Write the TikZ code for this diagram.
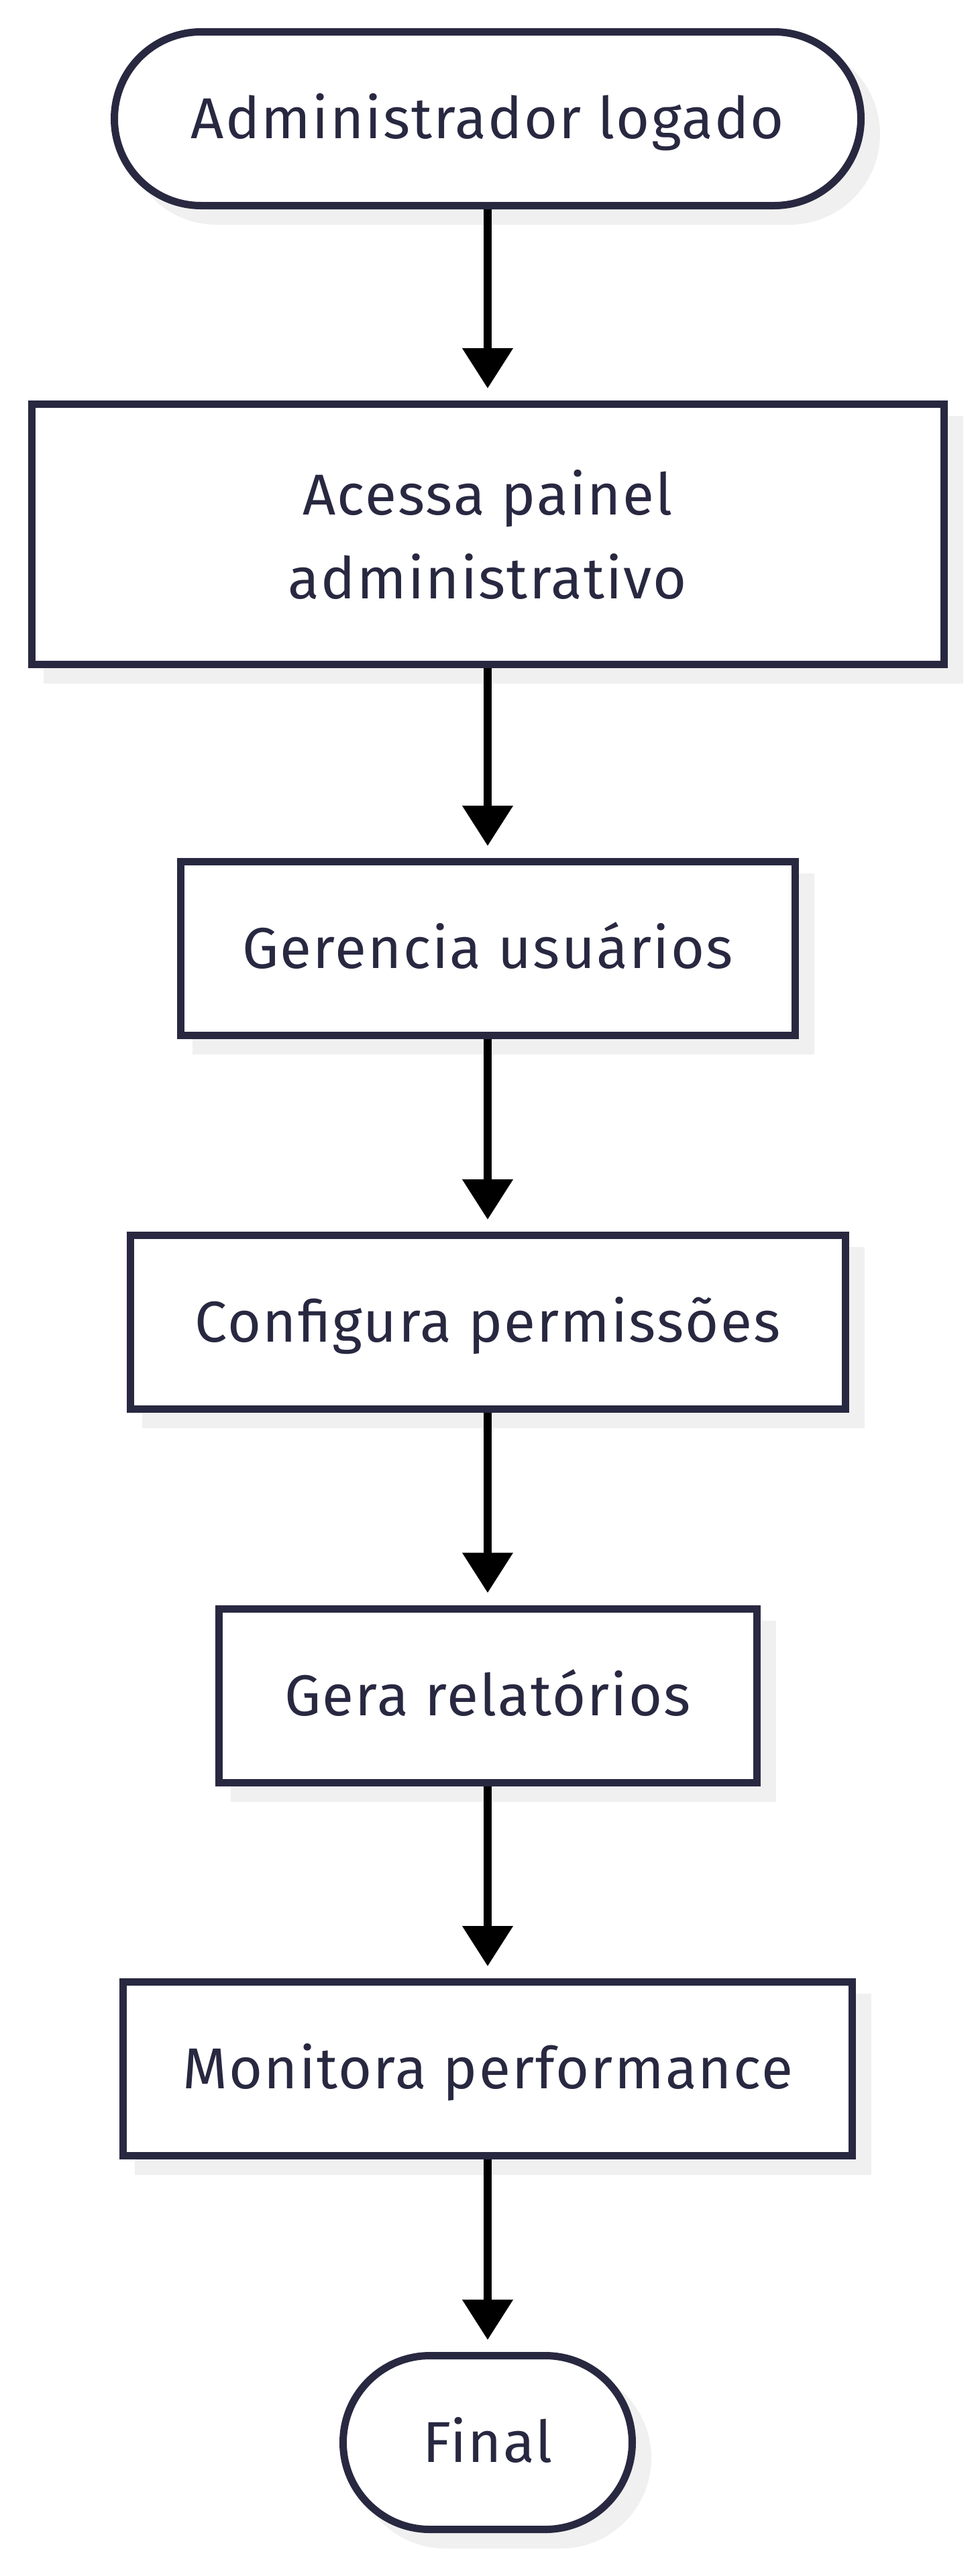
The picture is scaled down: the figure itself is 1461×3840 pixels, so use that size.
\documentclass[tikz,border=0pt]{standalone}
\usepackage{fontspec}
\setmainfont[LetterSpace=2.5]{Fira Sans}
\usetikzlibrary{arrows.meta,backgrounds}
\definecolor{ink}{HTML}{282841}
\definecolor{shadowc}{HTML}{F0F0F0}
\tikzset{
  boxnode/.style={draw=ink, fill=white, line width=5.5pt, inner sep=0pt,
    text=ink, font=\fontsize{43pt}{62.5pt}\selectfont, align=center,
    minimum height=129.5pt},
  oneline/.style={text height=29.5pt, text depth=0pt},
  stadium/.style={boxnode, rounded corners=64.75pt},
  flowarrow/.style={draw=black, line width=5.75pt,
    -{Triangle[length=30pt,width=36.5pt]}, shorten >=9pt},
  shadowbox/.style={fill=shadowc}
}
\begin{document}
\begin{tikzpicture}[x=0.5pt,y=-0.5pt]
\useasboundingbox (0,0) rectangle (1461,3840);
\node[stadium, oneline, minimum width=556.5pt] (start) at (727,177) {Administrador logado};
\node[boxnode, minimum width=680pt, minimum height=194pt] (acc) at (727,796.5) {Acessa painel\\administrativo};
\node[boxnode, oneline, minimum width=458pt] (ger) at (727,1414) {Gerencia usuários};
\node[boxnode, oneline, minimum width=533pt] (cfg) at (727,1971) {Configura permissões};
\node[boxnode, oneline, minimum width=401pt] (rel) at (727,2527.5) {Gera relatórios};
\node[boxnode, oneline, minimum width=543.5pt] (mon) at (727,3084) {Monitora performance};
\node[stadium, oneline, minimum width=215.5pt] (fin) at (727,3641) {Final};
\begin{scope}[on background layer]
  \fill[shadowbox, rounded corners=67.5pt] ([shift={(23,23)}]start.south west) rectangle ([shift={(23,23)}]start.north east);
  \foreach \n in {acc,ger,cfg,rel,mon}{
    \fill[shadowbox] ([shift={(23,23)}]\n.south west) rectangle ([shift={(23,23)}]\n.north east);
  }
  \fill[shadowbox, rounded corners=67.5pt] ([shift={(23,23)}]fin.south west) rectangle ([shift={(23,23)}]fin.north east);
\end{scope}
\draw[flowarrow] (start.south) -- (acc.north);
\draw[flowarrow] (acc.south) -- (ger.north);
\draw[flowarrow] (ger.south) -- (cfg.north);
\draw[flowarrow] (cfg.south) -- (rel.north);
\draw[flowarrow] (rel.south) -- (mon.north);
\draw[flowarrow] (mon.south) -- (fin.north);
\end{tikzpicture}
\end{document}
